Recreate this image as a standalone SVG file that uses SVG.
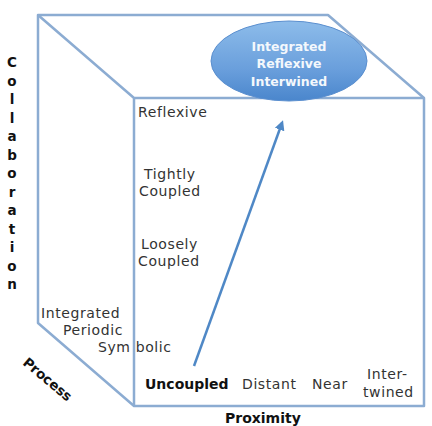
<svg xmlns="http://www.w3.org/2000/svg" width="432" height="426" viewBox="0 0 432 426">
<style>
.edge{fill:none;stroke:#8cacd2;stroke-width:2.5;stroke-linejoin:round}
.lbl{font-family:"DejaVu Sans",Verdana,sans-serif;font-size:14px;fill:#333;letter-spacing:0.6px}
.bold{font-family:"DejaVu Sans",Verdana,sans-serif;font-size:13.5px;font-weight:bold;fill:#111}
.axis{font-family:"DejaVu Sans",Verdana,sans-serif;font-size:13.5px;font-weight:bold;fill:#111;text-anchor:middle}
.node{font-family:"DejaVu Sans",Verdana,sans-serif;font-size:12.5px;font-weight:bold;fill:#f4f8fc;text-anchor:middle}
</style>
<defs>
<linearGradient id="g" x1="0" y1="0" x2="0" y2="1">
<stop offset="0" stop-color="#8dbcea"/>
<stop offset="0.6" stop-color="#6a9fdc"/>
<stop offset="1" stop-color="#4a86cc"/>
</linearGradient>
<marker id="ah" markerWidth="10" markerHeight="10" refX="7" refY="5" orient="auto" markerUnits="userSpaceOnUse" viewBox="0 0 10 10">
<path d="M0,0 L10,5 L0,10 z" fill="#4f88c6"/>
</marker>
</defs>
<rect width="432" height="426" fill="#fff"/>
<g id="cube">
<path class="edge" d="M38,15 L328,15 L424,98 L424,406 L134,406 L38,323 Z"/>
<path class="edge" d="M38,15 L134,98 L424,98 M134,98 L134,406"/>
</g>
<g id="node-integrated">
<ellipse cx="289" cy="61" rx="78" ry="40" fill="url(#g)" stroke="#5b8fcf" stroke-width="1"/>
<text class="node" x="289" y="51">Integrated</text>
<text class="node" x="289" y="68">Reflexive</text>
<text class="node" x="289" y="86">Interwined</text>
</g>
<g id="connectors">
<line x1="194" y1="366" x2="282" y2="123" stroke="#4f88c6" stroke-width="2.5" marker-end="url(#ah)"/>
</g>
<g id="collaboration-axis">
<text class="axis" x="12" y="67">C</text>
<text class="axis" x="12" y="85.5">o</text>
<text class="axis" x="12" y="104">l</text>
<text class="axis" x="12" y="122.5">l</text>
<text class="axis" x="12" y="141">a</text>
<text class="axis" x="12" y="159.5">b</text>
<text class="axis" x="12" y="178">o</text>
<text class="axis" x="12" y="196.5">r</text>
<text class="axis" x="12" y="215">a</text>
<text class="axis" x="12" y="233.5">t</text>
<text class="axis" x="12" y="252">i</text>
<text class="axis" x="12" y="270.5">o</text>
<text class="axis" x="12" y="289">n</text>
</g>
<g id="collaboration-levels">
<text class="lbl" x="138" y="117">Reflexive</text>
<text class="lbl" x="144" y="179">Tightly</text>
<text class="lbl" x="139" y="196">Coupled</text>
<text class="lbl" x="141" y="249">Loosely</text>
<text class="lbl" x="138" y="266">Coupled</text>
</g>
<g id="process-levels">
<text class="lbl" x="41" y="318">Integrated</text>
<text class="lbl" x="63" y="335">Periodic</text>
<text class="lbl" x="98" y="352">Sym bolic</text>
<text class="bold" transform="translate(22,364) rotate(40)">Process</text>
</g>
<g id="proximity-levels">
<text class="bold" x="145" y="389" style="font-size:14px">Uncoupled</text>
<text class="lbl" x="242" y="389">Distant</text>
<text class="lbl" x="312" y="389">Near</text>
<text class="lbl" x="367" y="379">Inter-</text>
<text class="lbl" x="363" y="397">twined</text>
<text class="bold" x="225" y="423" style="font-size:14px">Proximity</text>
</g>
</svg>
